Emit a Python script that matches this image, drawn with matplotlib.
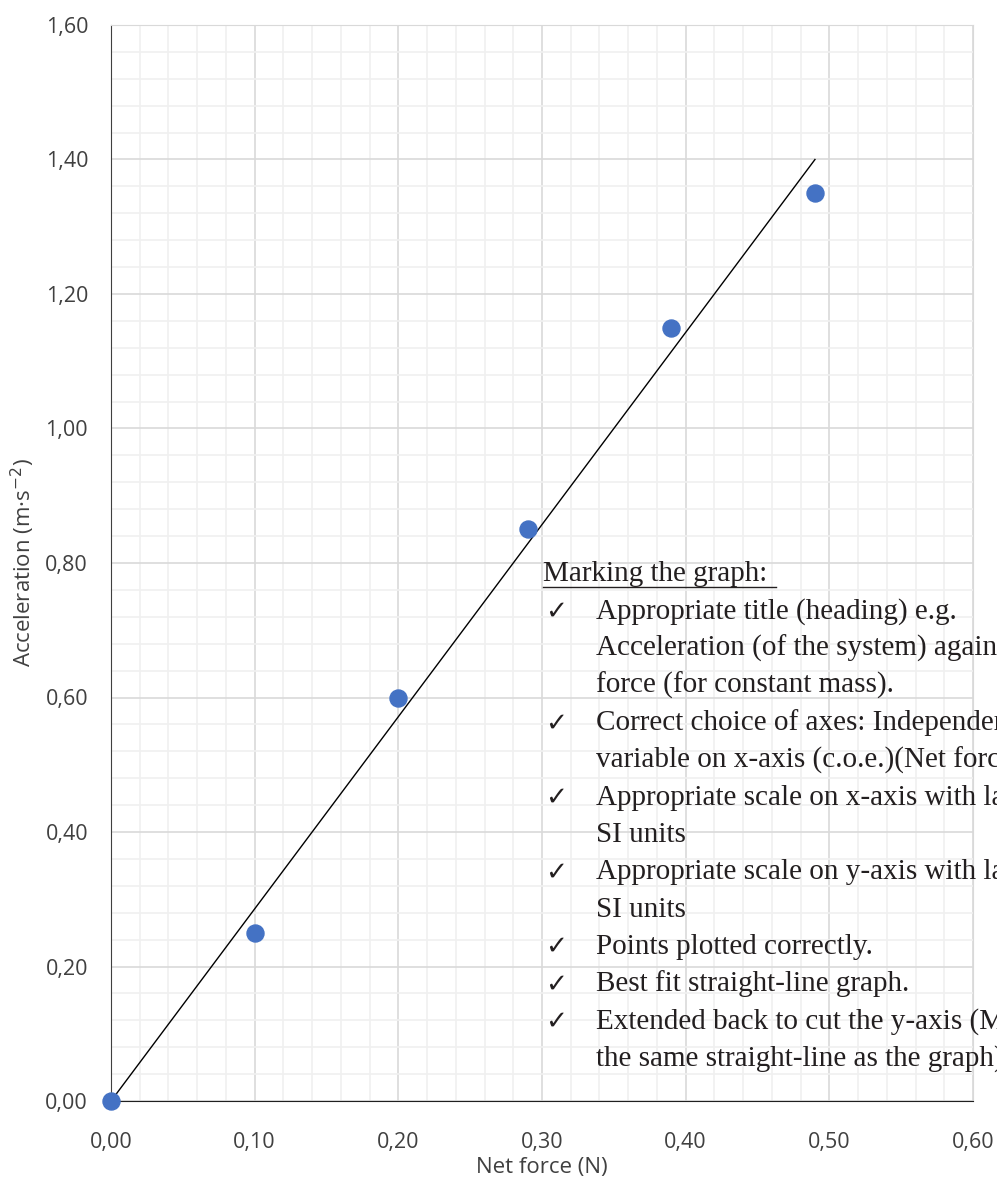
import numpy as np
import matplotlib.pyplot as plt
from matplotlib.lines import Line2D
from matplotlib.ticker import MultipleLocator, FuncFormatter

# data
force = [0.00, 0.10, 0.20, 0.29, 0.39, 0.49]
accel = [0.00, 0.25, 0.60, 0.85, 1.15, 1.35]
fit_x = [0.00, 0.49]
fit_y = [0.00, 1.40]

heading = 'Marking the graph:'
notes = [
    ('\u2713', 'Appropriate title (heading) e.g.'),
    ('', 'Acceleration (of the system) against net'),
    ('', 'force (for constant mass).'),
    ('\u2713', 'Correct choice of axes: Independent'),
    ('', 'variable on x-axis (c.o.e.)(Net force)'),
    ('\u2713', 'Appropriate scale on x-axis with labels and'),
    ('', 'SI units'),
    ('\u2713', 'Appropriate scale on y-axis with labels and'),
    ('', 'SI units'),
    ('\u2713', 'Points plotted correctly.'),
    ('\u2713', 'Best fit straight-line graph.'),
    ('\u2713', 'Extended back to cut the y-axis (Must be'),
    ('', 'the same straight-line as the graph)'),
]

W, H = 997, 1181
plt.rcParams['font.family'] = ['Open Sans', 'DejaVu Sans']
fig = plt.figure(figsize=(W/100, H/100), dpi=100)
ax = fig.add_axes([111/W, 1-1101/H, (973-111)/W, (1101-25)/H])

ax.set_xlim(0, 0.6)
ax.set_ylim(0, 1.6)
ax.xaxis.set_major_locator(MultipleLocator(0.1))
ax.xaxis.set_minor_locator(MultipleLocator(0.02))
ax.yaxis.set_major_locator(MultipleLocator(0.2))
ax.yaxis.set_minor_locator(MultipleLocator(0.04))
fmt = FuncFormatter(lambda v, p: ('%.2f' % v).replace('.', ','))
ax.xaxis.set_major_formatter(fmt)
ax.yaxis.set_major_formatter(fmt)
ax.grid(which='major', color='#d9d9d9', lw=1.2)
ax.grid(which='minor', color='#f0f0f0', lw=1.2)
ax.set_axisbelow(True)
ax.tick_params(which='both', length=0, labelsize=15.5, colors='#404040')
ax.tick_params(axis='y', pad=16.5)
ax.tick_params(axis='x', pad=22)
for s in ['top', 'right']:
    ax.spines[s].set_color('#d9d9d9')
ax.spines['left'].set_color('#404040')
ax.spines['bottom'].set_color('#202020')

ax.plot(fit_x, fit_y, color='black', lw=1, zorder=3)
ax.scatter(force, accel, s=150, color='#4472c4', zorder=4, clip_on=False)

ax.set_xlabel('Net force (N)', fontsize=16, color='#404040', labelpad=3)
ax.set_ylabel('Acceleration (m\u00b7s$^{-2}$)', fontsize=16, color='#404040', labelpad=6)

# marking notes (run off the right edge as in the original)
tc = '#231f20'
serif = ['Liberation Serif', 'DejaVu Serif']
y0 = 581
fig.text(543/W, 1-y0/H, heading, family=serif, fontsize=21, color=tc, va='baseline')
fig.add_artist(Line2D([543/W, 776/W], [1-587/H, 1-587/H], color=tc, lw=1))
for i, (mark, line) in enumerate(notes):
    yb = 1 - (y0 + 37.3*(i+1))/H
    if mark:
        fig.text(545/W, yb, mark, family='DejaVu Sans', fontsize=19, color=tc, va='baseline')
    fig.text(596/W, yb, line, family=serif, fontsize=21, color=tc, va='baseline')

plt.savefig('out.png', dpi=100)
